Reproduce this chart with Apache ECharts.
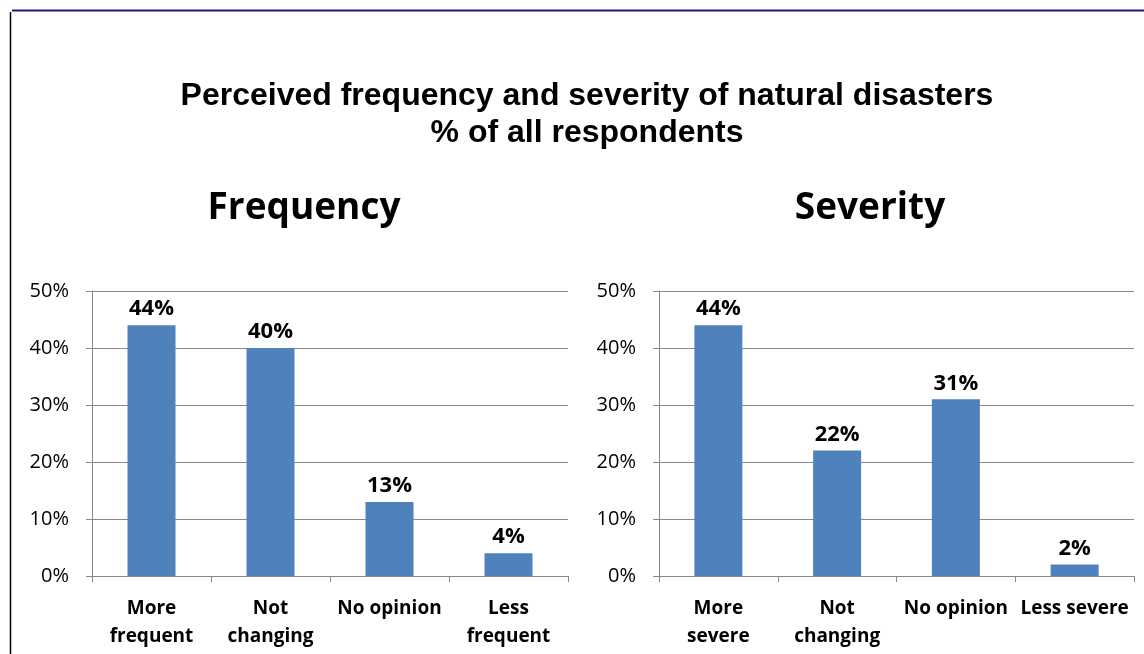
<!DOCTYPE html>
<html>
<head>
<meta charset="utf-8">
<script src="https://cdn.jsdelivr.net/npm/echarts@6/dist/echarts.min.js"></script>
<style>
  html, body { margin: 0; padding: 0; background: #fff; }
  #chart { width: 1144px; height: 654px; }
</style>
</head>
<body>
<div id="chart"></div>
<script>
// Survey results: perceived frequency and severity of natural disasters
const mainTitle = 'Perceived frequency and severity of natural disasters\n% of all respondents';
const panelTitles = ['Frequency', 'Severity'];
const frequencyCategories = ['More\nfrequent', 'Not\nchanging', 'No opinion', 'Less\nfrequent'];
const frequencyValues = [44, 40, 13, 4];
const severityCategories = ['More\nsevere', 'Not\nchanging', 'No opinion', 'Less severe'];
const severityValues = [44, 22, 31, 2];
const yTicks = { min: 0, max: 50, interval: 10 };

const barColor = '#4F81BD';
const gridGray = '#888888';
const labelFont = '"Open Sans", Lato, sans-serif';

const chart = echarts.init(document.getElementById('chart'), null, { renderer: 'canvas' });

function xAxis(gridIndex, data) {
  return {
    type: 'category', gridIndex, data,
    axisLine: { show: true, lineStyle: { color: gridGray, width: 1 } },
    axisTick: { show: true, alignWithLabel: false, length: 6, lineStyle: { color: gridGray } },
    axisLabel: {
      interval: 0, margin: 19, color: '#000', fontFamily: labelFont,
      fontWeight: 'bold', fontSize: 19, lineHeight: 28
    }
  };
}
function yAxis(gridIndex) {
  return {
    type: 'value', gridIndex, min: yTicks.min, max: yTicks.max, interval: yTicks.interval,
    axisLine: { show: true, lineStyle: { color: gridGray, width: 1 } },
    axisTick: { show: true, length: 6, lineStyle: { color: gridGray } },
    splitLine: { show: true, lineStyle: { color: gridGray, width: 1 } },
    axisLabel: {
      margin: 23, color: '#000', fontFamily: labelFont, fontSize: 20,
      formatter: v => v + '%'
    }
  };
}
function barSeries(idx, data) {
  return {
    type: 'bar', xAxisIndex: idx, yAxisIndex: idx, data,
    barWidth: 48,
    itemStyle: { color: barColor },
    label: {
      show: true, position: 'top', distance: 5, color: '#000',
      fontFamily: labelFont, fontWeight: 'bold', fontSize: 22,
      formatter: p => p.value + '%'
    },
    emphasis: { disabled: true },
    animation: false
  };
}

chart.setOption({
  animation: false,
  title: [
    {
      text: mainTitle, left: 582, top: 73, textAlign: 'center',
      textStyle: { fontFamily: '"Liberation Sans", Arial, sans-serif', fontWeight: 'bold',
                   fontSize: 32, lineHeight: 37, color: '#000' }
    },
    {
      text: panelTitles[0], left: 299, top: 185, textAlign: 'center',
      textStyle: { fontFamily: labelFont, fontWeight: 'bold', fontSize: 37, color: '#000' }
    },
    {
      text: panelTitles[1], left: 865, top: 185, textAlign: 'center',
      textStyle: { fontFamily: labelFont, fontWeight: 'bold', fontSize: 37, color: '#000' }
    }
  ],
  grid: [
    { left: 92, right: 576, top: 291, bottom: 78 },
    { left: 659, right: 10, top: 291, bottom: 78 }
  ],
  xAxis: [xAxis(0, frequencyCategories), xAxis(1, severityCategories)],
  yAxis: [yAxis(0), yAxis(1)],
  series: [barSeries(0, frequencyValues), barSeries(1, severityValues)],
  graphic: [
    { type: 'line', shape: { x1: 12, y1: 10.5, x2: 1144, y2: 10.5 },
      style: { stroke: '#1a1a80', lineWidth: 2 } },
    { type: 'line', shape: { x1: 10.5, y1: 12, x2: 10.5, y2: 654 },
      style: { stroke: '#000', lineWidth: 1.5 } }
  ]
});
</script>
</body>
</html>
